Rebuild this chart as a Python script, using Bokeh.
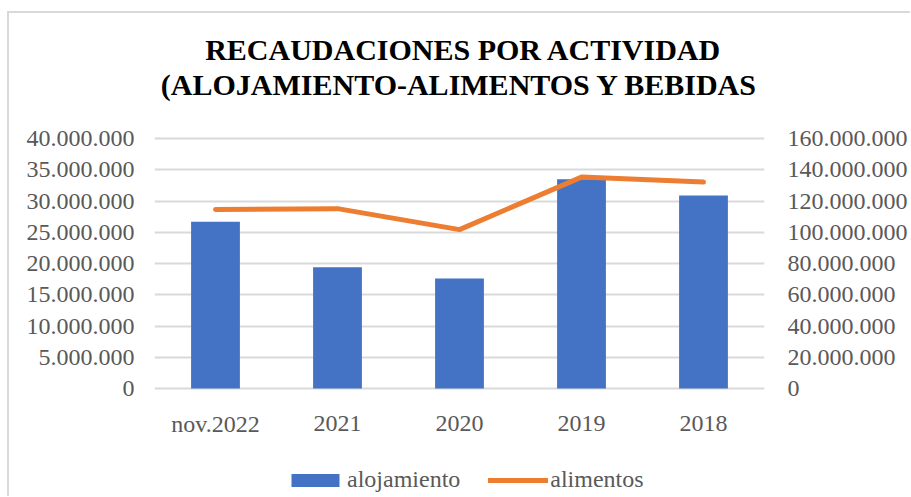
from bokeh.plotting import figure
from bokeh.models import (Range1d, LinearAxis, FactorRange, CustomJSTickFormatter,
                          Legend, LegendItem, Label, ColumnDataSource, FixedTicker)
from bokeh.core.properties import value
from bokeh.embed import file_html
from bokeh.resources import INLINE

categories = ["nov.2022", "2021", "2020", "2019", "2018"]
alojamiento = [26700000, 19400000, 17600000, 33500000, 30900000]
alimentos = [114500000, 115100000, 101700000, 135300000, 132100000]
left_ticks = [0, 5000000, 10000000, 15000000, 20000000, 25000000, 30000000, 35000000, 40000000]
right_ticks = [0, 20000000, 40000000, 60000000, 80000000, 100000000, 120000000, 140000000, 160000000]
title_line1 = "RECAUDACIONES POR ACTIVIDAD"
title_line2 = "(ALOJAMIENTO-ALIMENTOS Y BEBIDAS"

SERIF = "Liberation Serif"
GRAY = "#595959"

# layout geometry (pixels): value axis spans 250 px, frame extends above/below it
LEFT_MAX = 40000000
RIGHT_MAX = 160000000
AXIS_PX = 250
TOP_PX = 125      # space above the 40M line
BOTTOM_PX = 108   # space below the 0 line
per_px = LEFT_MAX / AXIS_PX

src = ColumnDataSource(dict(cat=categories, aloj=alojamiento, alim=alimentos))

p = figure(x_range=FactorRange(*categories, range_padding=0),
           y_range=Range1d(-BOTTOM_PX * per_px, LEFT_MAX + TOP_PX * per_px),
           frame_width=610, frame_height=AXIS_PX + TOP_PX + BOTTOM_PX,
           output_backend="svg", toolbar_location=None, title=None, x_axis_location=None,
           min_border_left=145, min_border_right=145, min_border_top=0, min_border_bottom=0)
p.styles = {"border-left": "2px solid #d9d9d9", "border-top": "2px solid #d9d9d9",
            "margin-top": "11px", "margin-left": "7px"}
ratio = RIGHT_MAX / LEFT_MAX
p.extra_y_ranges = {"right": Range1d(-BOTTOM_PX * per_px * ratio, (LEFT_MAX + TOP_PX * per_px) * ratio)}
p.outline_line_color = None
p.background_fill_color = "white"

fmt = CustomJSTickFormatter(code="""
return Math.round(tick).toString().replace(/\\B(?=(\\d{3})+(?!\\d))/g, ".");
""")

p.yaxis.ticker = FixedTicker(ticks=left_ticks)
p.yaxis.formatter = fmt
ra = LinearAxis(y_range_name="right", ticker=FixedTicker(ticks=right_ticks), formatter=fmt)
p.add_layout(ra, "right")

for ax, so in [(p.yaxis[0], 14), (ra, 17)]:
    ax.axis_line_color = None
    ax.major_tick_line_color = None
    ax.minor_tick_line_color = None
    ax.major_label_text_font = SERIF
    ax.major_label_text_font_size = "24px"
    ax.major_label_text_color = GRAY
    ax.major_label_standoff = so

p.xgrid.grid_line_color = None
p.ygrid.grid_line_color = "#d9d9d9"
p.ygrid.grid_line_width = 2

bars = p.vbar(x="cat", top="aloj", width=0.4, source=src, color="#4472C4", line_color=None)
line = p.line(x="cat", y="alim", source=src, y_range_name="right", line_color="#ED7D31",
              line_width=5, line_cap="round", line_join="round")

# category labels under the 0 line
p.text(x="cat", y=-35 * per_px, text="cat", source=src, text_font=value(SERIF),
       text_font_size="24px", text_color=GRAY, text_align="center", text_baseline="middle")

legend = Legend(items=[LegendItem(label="alojamiento", renderers=[bars]),
                       LegendItem(label="alimentos", renderers=[line])],
                orientation="horizontal", location=(131, 3),
                label_text_font=SERIF, label_text_font_size="24px",
                label_text_color=GRAY,
                glyph_width=60, glyph_height=16, label_standoff=2, spacing=28,
                border_line_color=None, background_fill_alpha=0, padding=0, margin=0)
p.add_layout(legend, "center")

mid = len(categories) / 2
for txt, off, dx in [(title_line1, 89, 4), (title_line2, 54, 0)]:
    p.add_layout(Label(x=mid, y=LEFT_MAX + off * per_px, x_offset=dx, text=txt,
                       text_align="center", text_baseline="alphabetic", text_font=SERIF,
                       text_font_size="30px", text_font_style="bold", text_color="black"))

open("out.html", "w").write(file_html(p, INLINE))
